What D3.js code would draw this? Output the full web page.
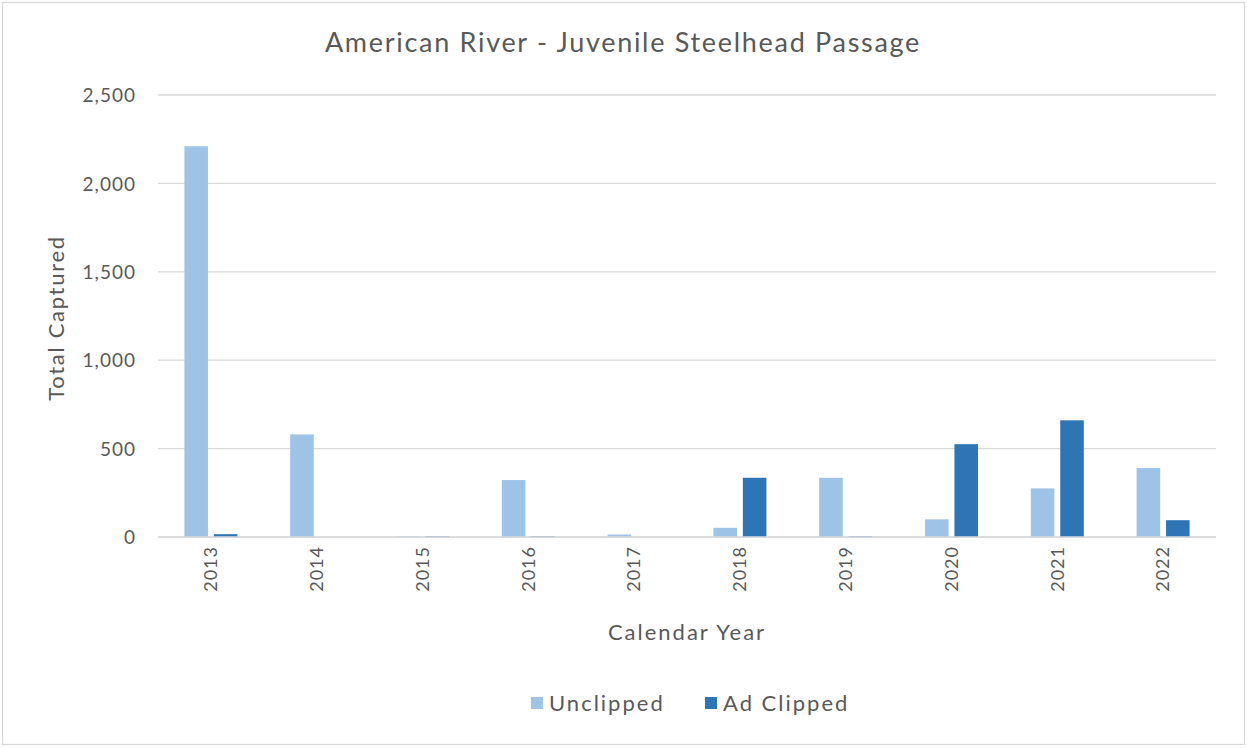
<!DOCTYPE html>
<html>
<head>
<meta charset="utf-8">
<title>American River - Juvenile Steelhead Passage</title>
<script src="https://d3js.org/d3.v7.min.js"></script>
<style>
	*{ margin:0; padding:0; }
	body{ background:#fff; }
	svg text{ font-family: Lato, "Open Sans", sans-serif; fill:#595959; }
	.grid line{ stroke:#d9d9d9; stroke-width:1.3; }
</style>
</head>
<body>
<svg id="chart" width="1247" height="748"></svg>
<script>
// data
var years = ["2013","2014","2015","2016","2017","2018","2019","2020","2021","2022"];
var unclipped = [2210, 580, 4, 322, 14, 52, 335, 100, 275, 390];
var adClipped = [16, 0, 4, 4, 0, 335, 4, 525, 660, 95];
var seriesNames = ["Unclipped", "Ad Clipped"];
var seriesColors = ["#9dc3e6", "#2e75b6"];
var yTicks = [0, 500, 1000, 1500, 2000, 2500];

var svg = d3.select("#chart");
var plotL = 158, plotR = 1216, plotT = 95, plotB = 537;

// outer frame
svg.append("rect")
	.attr("x", 2.5).attr("y", 2.5)
	.attr("width", 1242).attr("height", 742)
	.attr("fill", "#fff").attr("stroke", "#d9d9d9").attr("stroke-width", 1.3);

var x0 = d3.scaleBand().domain(years).range([plotL, plotR]);
var groupW = 53;
var x1 = d3.scaleBand().domain(seriesNames).range([0, groupW]).paddingInner(0.2);
var y = d3.scaleLinear().domain([0, 2500]).range([plotB, plotT]);

// gridlines
svg.append("g").attr("class", "grid")
	.selectAll("line").data(yTicks).enter().append("line")
	.attr("x1", plotL).attr("x2", plotR)
	.attr("y1", function(d){ return y(d); })
	.attr("y2", function(d){ return y(d); });

// y axis labels
var yAxis = d3.axisLeft(y).tickValues(yTicks).tickSize(0).tickPadding(22).tickFormat(d3.format(","));
var ya = svg.append("g").attr("transform", "translate(" + plotL + ",0)").call(yAxis);
ya.select(".domain").remove();
ya.selectAll("text").style("font-size", "19px").style("letter-spacing", "1px")
	.attr("fill", "#595959").attr("dy", "0.35em");

// bars
var rows = years.map(function(yr, i){ return { year: yr, vals: [unclipped[i], adClipped[i]] }; });
var groups = svg.append("g").selectAll("g").data(rows).enter().append("g")
	.attr("transform", function(d){ return "translate(" + (x0(d.year) + (x0.bandwidth() - groupW) / 2) + ",0)"; });
groups.selectAll("rect")
	.data(function(d){ return d.vals.map(function(v, k){ return { name: seriesNames[k], v: v, k: k }; }); })
	.enter().append("rect")
	.attr("x", function(d){ return x1(d.name); })
	.attr("width", x1.bandwidth())
	.attr("y", function(d){ return y(d.v); })
	.attr("height", function(d){ return plotB - y(d.v); })
	.attr("fill", function(d){ return seriesColors[d.k]; });

// baseline on top
svg.append("line")
	.attr("x1", plotL).attr("x2", plotR)
	.attr("y1", y(0)).attr("y2", y(0))
	.attr("stroke", "#d9d9d9").attr("stroke-width", 1.3);

// x axis labels, rotated
var xAxis = d3.axisBottom(x0).tickSize(0).tickPadding(0);
var xa = svg.append("g").attr("transform", "translate(0," + plotB + ")").call(xAxis);
xa.select(".domain").remove();
xa.selectAll("text")
	.style("font-size", "18px")
	.style("letter-spacing", "1px")
	.attr("text-anchor", "end")
	.attr("transform", "rotate(-90)")
	.attr("x", -9)
	.attr("y", 0)
	.attr("dy", "0.35em");

// titles
svg.append("text")
	.attr("x", 623).attr("y", 52)
	.attr("text-anchor", "middle")
	.style("font-size", "27px")
	.style("letter-spacing", "1.7px")
	.text("American River - Juvenile Steelhead Passage");

svg.append("text")
	.attr("x", (plotL + plotR) / 2).attr("y", 640)
	.attr("text-anchor", "middle")
	.style("font-size", "22px")
	.style("letter-spacing", "2px")
	.text("Calendar Year");

svg.append("text")
	.attr("transform", "translate(64,318) rotate(-90)")
	.attr("text-anchor", "middle")
	.style("font-size", "22px")
	.style("letter-spacing", "1.7px")
	.text("Total Captured");

// legend
var legendX = [531, 705];
var lg = svg.append("g").selectAll("g").data(seriesNames).enter().append("g")
	.attr("transform", function(d, i){ return "translate(" + legendX[i] + ",697)"; });
lg.append("rect").attr("width", 12).attr("height", 12)
	.attr("fill", function(d, i){ return seriesColors[i]; });
lg.append("text").attr("x", 18).attr("y", 6).attr("dy", "0.35em")
	.style("font-size", "22px")
	.style("letter-spacing", "2px")
	.text(function(d){ return d; });
</script>
</body>
</html>
